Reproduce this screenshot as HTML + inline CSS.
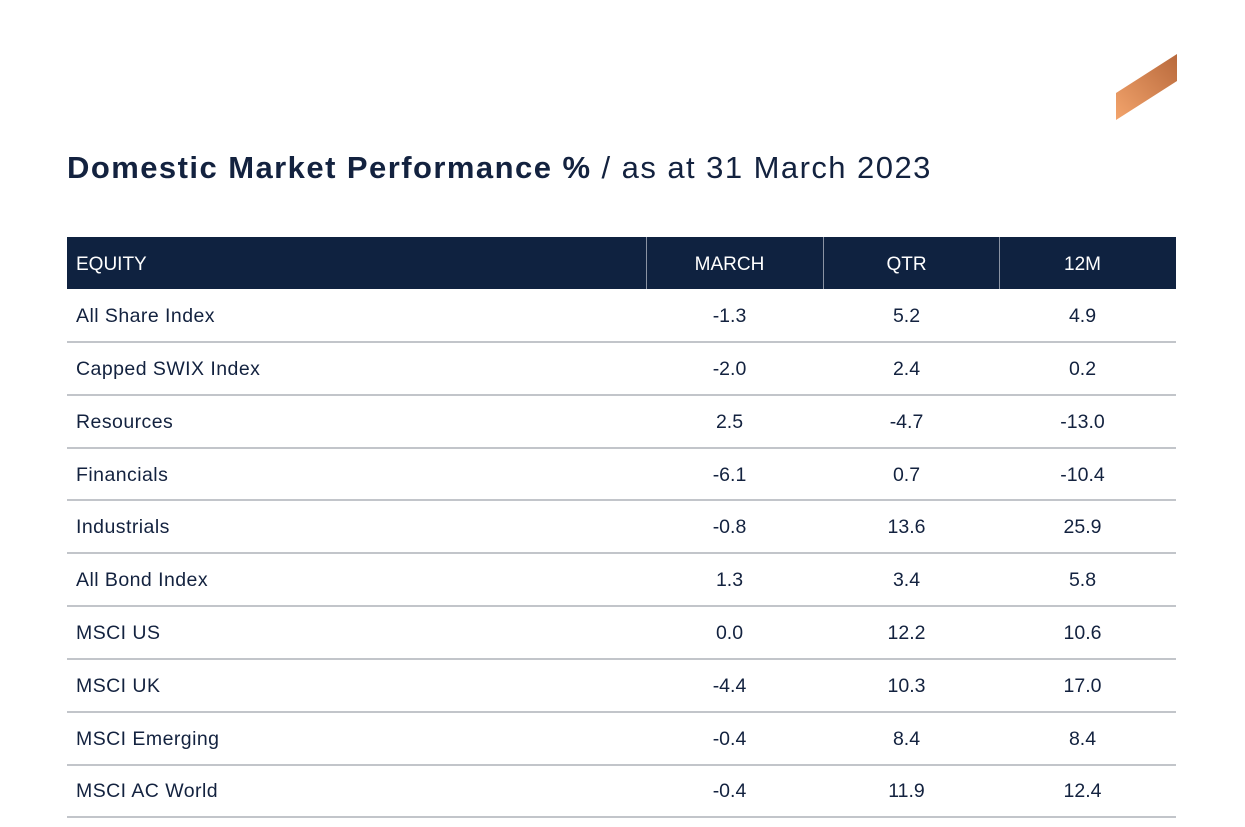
<!DOCTYPE html>
<html>
<head>
<meta charset="utf-8">
<style>
html,body{margin:0;padding:0;background:#fff;}
body{width:1245px;height:827px;position:relative;overflow:hidden;font-family:"Liberation Sans",sans-serif;color:#13223f;}
.title{position:absolute;left:67px;top:148px;font-size:31px;white-space:nowrap;line-height:40px;color:#13223f;letter-spacing:1.45px;}
.title b{font-weight:bold;}
.hdr{position:absolute;left:67px;top:237px;width:1109px;height:52px;background:#0f2240;}
.vd{position:absolute;top:237px;width:1px;height:52px;background:#8a93a3;}
.ht{position:absolute;top:239px;height:52px;line-height:52px;color:#fff;font-size:19px;}
.c{text-align:center;}
.sep{position:absolute;left:67px;width:1109px;height:2px;background:#c2c5ca;}
.cell{position:absolute;font-size:19.5px;line-height:53px;height:53px;white-space:nowrap;margin-top:1px;}
.l{letter-spacing:0.45px;}
</style>
</head>
<body>
<svg style="position:absolute;left:0;top:0" width="1245" height="827">
<defs>
<linearGradient id="g" x1="0" y1="1" x2="1" y2="0">
<stop offset="0" stop-color="#f3a46c"/>
<stop offset="1" stop-color="#b8693c"/>
</linearGradient>
</defs>
<polygon points="1116,93 1177,54 1177,81 1116,120" fill="url(#g)"/>
</svg>
<div class="title"><b>Domestic Market Performance %</b> / as at 31 March 2023</div>

<div class="hdr"></div>
<div class="vd" style="left:646px"></div>
<div class="vd" style="left:823px"></div>
<div class="vd" style="left:999px"></div>
<div class="ht" style="left:76px">EQUITY</div>
<div class="ht c" style="left:646px;width:167px">MARCH</div>
<div class="ht c" style="left:823px;width:167px">QTR</div>
<div class="ht c" style="left:999px;width:167px">12M</div>

<div class="cell l" style="left:76px;top:289px">All Share Index</div>
<div class="cell c" style="left:646px;width:167px;top:289px">-1.3</div>
<div class="cell c" style="left:823px;width:167px;top:289px">5.2</div>
<div class="cell c" style="left:999px;width:167px;top:289px">4.9</div>
<div class="sep" style="top:341px"></div>

<div class="cell l" style="left:76px;top:342px">Capped SWIX Index</div>
<div class="cell c" style="left:646px;width:167px;top:342px">-2.0</div>
<div class="cell c" style="left:823px;width:167px;top:342px">2.4</div>
<div class="cell c" style="left:999px;width:167px;top:342px">0.2</div>
<div class="sep" style="top:394px"></div>

<div class="cell l" style="left:76px;top:395px">Resources</div>
<div class="cell c" style="left:646px;width:167px;top:395px">2.5</div>
<div class="cell c" style="left:823px;width:167px;top:395px">-4.7</div>
<div class="cell c" style="left:999px;width:167px;top:395px">-13.0</div>
<div class="sep" style="top:447px"></div>

<div class="cell l" style="left:76px;top:448px">Financials</div>
<div class="cell c" style="left:646px;width:167px;top:448px">-6.1</div>
<div class="cell c" style="left:823px;width:167px;top:448px">0.7</div>
<div class="cell c" style="left:999px;width:167px;top:448px">-10.4</div>
<div class="sep" style="top:499px"></div>

<div class="cell l" style="left:76px;top:500px">Industrials</div>
<div class="cell c" style="left:646px;width:167px;top:500px">-0.8</div>
<div class="cell c" style="left:823px;width:167px;top:500px">13.6</div>
<div class="cell c" style="left:999px;width:167px;top:500px">25.9</div>
<div class="sep" style="top:552px"></div>

<div class="cell l" style="left:76px;top:553px">All Bond Index</div>
<div class="cell c" style="left:646px;width:167px;top:553px">1.3</div>
<div class="cell c" style="left:823px;width:167px;top:553px">3.4</div>
<div class="cell c" style="left:999px;width:167px;top:553px">5.8</div>
<div class="sep" style="top:605px"></div>

<div class="cell l" style="left:76px;top:606px">MSCI US</div>
<div class="cell c" style="left:646px;width:167px;top:606px">0.0</div>
<div class="cell c" style="left:823px;width:167px;top:606px">12.2</div>
<div class="cell c" style="left:999px;width:167px;top:606px">10.6</div>
<div class="sep" style="top:658px"></div>

<div class="cell l" style="left:76px;top:659px">MSCI UK</div>
<div class="cell c" style="left:646px;width:167px;top:659px">-4.4</div>
<div class="cell c" style="left:823px;width:167px;top:659px">10.3</div>
<div class="cell c" style="left:999px;width:167px;top:659px">17.0</div>
<div class="sep" style="top:711px"></div>

<div class="cell l" style="left:76px;top:712px">MSCI Emerging</div>
<div class="cell c" style="left:646px;width:167px;top:712px">-0.4</div>
<div class="cell c" style="left:823px;width:167px;top:712px">8.4</div>
<div class="cell c" style="left:999px;width:167px;top:712px">8.4</div>
<div class="sep" style="top:764px"></div>

<div class="cell l" style="left:76px;top:764px">MSCI AC World</div>
<div class="cell c" style="left:646px;width:167px;top:764px">-0.4</div>
<div class="cell c" style="left:823px;width:167px;top:764px">11.9</div>
<div class="cell c" style="left:999px;width:167px;top:764px">12.4</div>
<div class="sep" style="top:816px"></div>
</body>
</html>
